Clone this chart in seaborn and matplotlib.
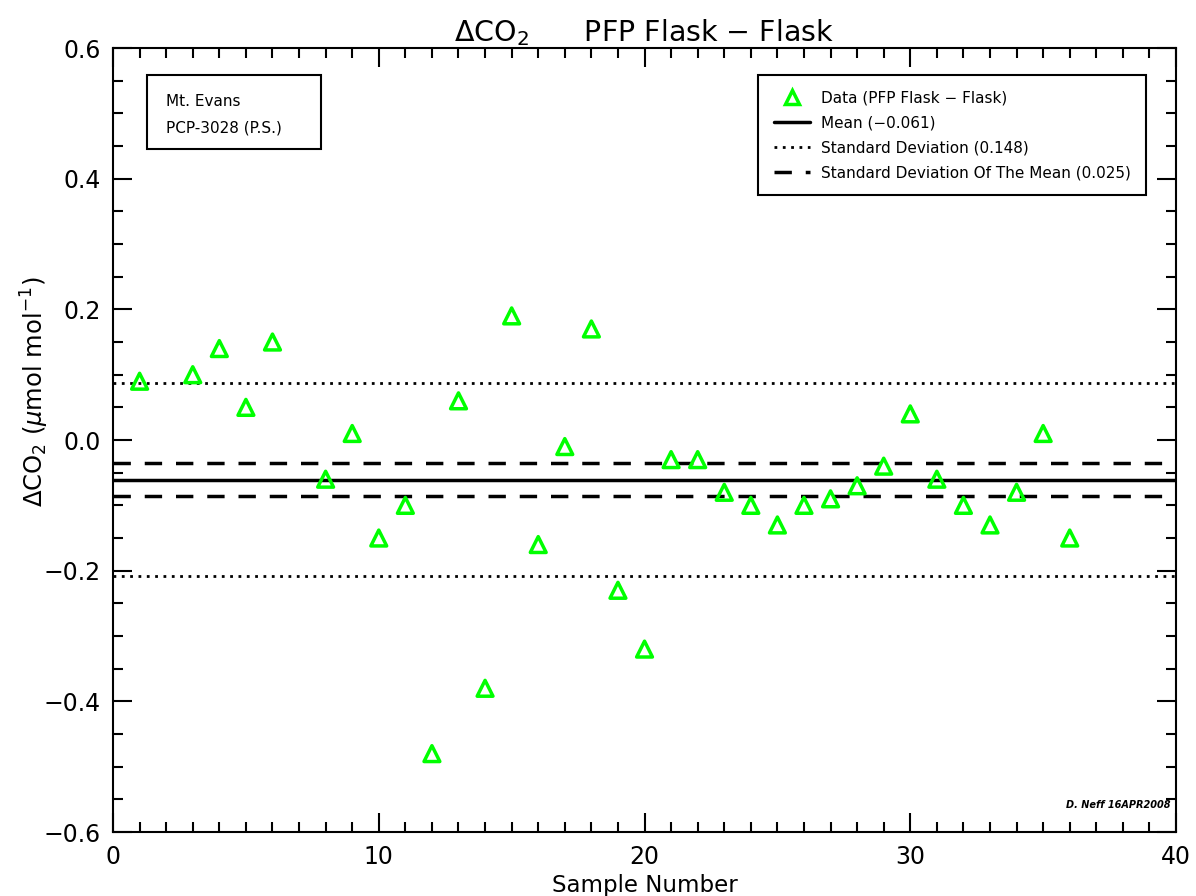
import numpy as np
import pandas as pd
import matplotlib
matplotlib.use("Agg")
import matplotlib.pyplot as plt
from matplotlib.lines import Line2D
from matplotlib.patches import Rectangle
from matplotlib.ticker import MultipleLocator
import seaborn as sns

# Sample numbers and PFP Flask - Flask CO2 differences (umol/mol)
sample = [1, 3, 4, 5, 6, 8, 9, 10, 11, 12, 13, 14, 15, 16, 17, 18, 19, 20,
          21, 22, 23, 24, 25, 26, 27, 28, 29, 30, 31, 32, 33, 34, 35, 36]
delta_co2 = [0.09, 0.10, 0.14, 0.05, 0.15, -0.06, 0.01, -0.15, -0.10, -0.48,
             0.06, -0.38, 0.19, -0.16, -0.01, 0.17, -0.23, -0.32, -0.03, -0.03,
             -0.08, -0.10, -0.13, -0.10, -0.09, -0.07, -0.04, 0.04, -0.06, -0.10,
             -0.13, -0.08, 0.01, -0.15]
y_ticks = [-0.6, -0.4, -0.2, 0.0, 0.2, 0.4, 0.6]

df = pd.DataFrame({"Sample": sample, "dCO2": delta_co2})

mean = df["dCO2"].mean()
sd = df["dCO2"].std()
sdm = sd / np.sqrt(len(df))

sns.set_style("ticks")
plt.rcParams["font.family"] = ["DejaVu Sans"]
plt.rcParams["text.color"] = "black"
plt.rcParams["axes.labelcolor"] = "black"
plt.rcParams["xtick.color"] = "black"
plt.rcParams["ytick.color"] = "black"

fig = plt.figure(figsize=(11.96, 8.96), dpi=100)
ax = fig.add_axes([0.0945, 0.0714, 0.8888, 0.875])

sns.scatterplot(x="Sample", y="dCO2", data=df, ax=ax, marker="^", s=130,
                facecolor="none", edgecolor="#00ff00", linewidth=2.5, zorder=3)

ax.axhline(mean, color="black", lw=2.5, zorder=2)
ax.axhline(mean + sd, color="black", lw=2, ls=(0, (1, 2)), zorder=2)
ax.axhline(mean - sd, color="black", lw=2, ls=(0, (1, 2)), zorder=2)
ax.axhline(mean + sdm, color="black", lw=2.5, ls=(0, (5, 4)), zorder=2)
ax.axhline(mean - sdm, color="black", lw=2.5, ls=(0, (5, 4)), zorder=2)

ax.set_xlim(0, 40)
ax.set_ylim(-0.6, 0.6)
ax.xaxis.set_major_locator(MultipleLocator(10))
ax.xaxis.set_minor_locator(MultipleLocator(1))
ax.yaxis.set_minor_locator(MultipleLocator(0.05))
ax.set_yticks(y_ticks)
ax.set_yticklabels([f"{v:.1f}".replace("-", "\u2212") for v in y_ticks])
ax.tick_params(which="both", direction="in", top=True, right=True,
               labelsize=17, width=1.5, pad=9)
ax.tick_params(which="major", length=14)
ax.tick_params(which="minor", length=7)
for s in ax.spines.values():
    s.set_linewidth(1.5)
    s.set_color("black")

ax.set_xlabel("Sample Number", fontsize=16.5, labelpad=4)
ax.set_ylabel("\u0394CO$_2$ ($\\mu$mol mol$^{-1}$)", fontsize=17.5)
ax.yaxis.set_label_coords(-0.058, 0.561)
ax.set_title("\u0394CO$_2$      PFP Flask \u2212 Flask", fontsize=20.5, pad=4)

handles = [
    Line2D([], [], marker="^", ls="none", markersize=10, markerfacecolor="none",
           markeredgecolor="#00ff00", markeredgewidth=2.5),
    Line2D([], [], color="black", lw=2.5),
    Line2D([], [], color="black", lw=2, ls=(0, (1, 2))),
    Line2D([], [], color="black", lw=2.5, ls=(0, (5, 4))),
]
labels = [
    "Data (PFP Flask \u2212 Flask)",
    f"Mean ({mean:.3f})".replace("-", "\u2212"),
    f"Standard Deviation ({sd:.3f})",
    f"Standard Deviation Of The Mean ({sdm:.3f})",
]
leg = ax.legend(handles, labels, loc="upper right", bbox_to_anchor=(0.9718, 0.9656),
                borderaxespad=0, fontsize=11, frameon=True, fancybox=False,
                handlelength=2.4, handletextpad=0.7, borderpad=1.0,
                labelspacing=0.65, framealpha=1)
leg.get_frame().set_edgecolor("black")
leg.get_frame().set_linewidth(1.5)

# site / instrument box
ax.add_patch(Rectangle((0.032, 0.871), 0.164, 0.095, transform=ax.transAxes,
                       facecolor="white", edgecolor="black", lw=1.5, zorder=4))
ax.text(0.05, 0.932, "Mt. Evans", transform=ax.transAxes, fontsize=11,
        va="center", ha="left", zorder=5)
ax.text(0.05, 0.898, "PCP-3028 (P.S.)", transform=ax.transAxes, fontsize=11,
        va="center", ha="left", zorder=5)

ax.text(0.995, 0.035, "D. Neff 16APR2008", transform=ax.transAxes, fontsize=7,
        fontweight="bold", style="italic", ha="right", va="center")

plt.savefig("out.png", dpi=100)
